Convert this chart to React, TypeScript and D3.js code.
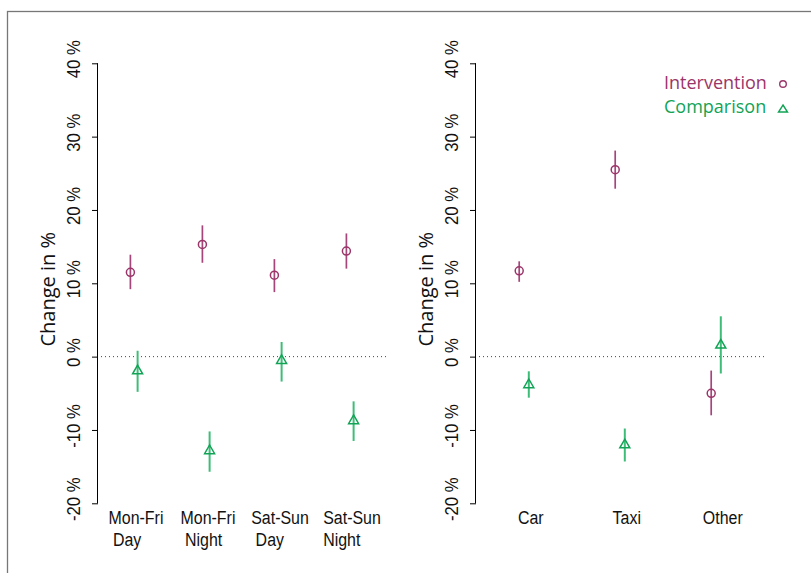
import React, { useEffect, useRef } from 'react';
import * as d3 from 'd3';

// left panel: time of week
const leftCategories = [['Mon-Fri', ' Day'], ['Mon-Fri', ' Night'], ['Sat-Sun', ' Day'], ['Sat-Sun', 'Night']];
const leftIntervention = [11.5, 15.3, 11.1, 14.4];
const leftInterventionLow = [9.2, 12.8, 8.8, 12.0];
const leftInterventionHigh = [13.9, 17.9, 13.3, 16.8];
const leftComparison = [-1.9, -12.8, -0.5, -8.7];
const leftComparisonLow = [-4.8, -15.7, -3.4, -11.5];
const leftComparisonHigh = [0.8, -10.2, 2.0, -6.1];

// right panel: vehicle type
const rightCategories = [['Car'], ['Taxi'], ['Other']];
const rightIntervention = [11.7, 25.5, -5.0];
const rightInterventionLow = [10.2, 22.9, -8.0];
const rightInterventionHigh = [13.0, 28.1, -1.9];
const rightComparison = [-3.8, -12.0, 1.6];
const rightComparisonLow = [-5.6, -14.3, -2.3];
const rightComparisonHigh = [-2.0, -9.8, 5.5];

const yTicks = [-20, -10, 0, 10, 20, 30, 40];
const legendLabels = ['Intervention', 'Comparison'];

const INT_COLOR = '#9b3569';
const INT_BAR = '#a5457a';
const COMP_COLOR = '#12a356';
const COMP_BAR = '#3dbd78';
const TRI = 'M0,-5.5L5,3.2L-5,3.2Z';
const NARROW = '"Liberation Sans", Arial, sans-serif';
const SQUEEZE = 0.84;

function App() {
  const ref = useRef<SVGSVGElement>(null);

  useEffect(() => {
    const svg = d3.select(ref.current);
    svg.selectAll('*').remove();

    const width = 811, height = 573;
    svg.attr('width', width).attr('height', height);

    svg.append('rect')
      .attr('x', 7.5).attr('y', 11.5)
      .attr('width', 900).attr('height', 700)
      .attr('fill', 'none').attr('stroke', '#777').attr('stroke-width', 1.3);

    const y = d3.scaleLinear().domain([-20, 40]).range([503.3, 63.3]);

    const panels = [
      { left: 98, cats: leftCategories, int: leftIntervention, intLo: leftInterventionLow, intHi: leftInterventionHigh,
        comp: leftComparison, compLo: leftComparisonLow, compHi: leftComparisonHigh, stagger: true },
      { left: 476, cats: rightCategories, int: rightIntervention, intLo: rightInterventionLow, intHi: rightInterventionHigh,
        comp: rightComparison, compLo: rightComparisonLow, compHi: rightComparisonHigh, stagger: false },
    ];

    panels.forEach((p) => {
      const x = d3.scaleBand<number>().domain(p.cats.map((_, i) => i)).range([p.left, p.left + 288]);
      const dodge = x.bandwidth() * 0.05;
      const cx = (i: number) => (x(i) as number) + x.bandwidth() / 2;
      const g = svg.append('g');

      // y axis, R style
      const ax = g.append('g')
        .attr('transform', `translate(${p.left},0)`)
        .call(d3.axisLeft(y).tickValues(yTicks).tickSize(6).tickFormat(() => ''));
      ax.select('.domain').attr('d', `M-0.5,${y(-20)}V${y(40)}`).attr('stroke', '#000');
      ax.selectAll('.tick line').attr('stroke', '#000');

      g.selectAll('.ylab')
        .data(yTicks)
        .enter()
        .append('text')
        .attr('transform', (d) => `translate(${p.left - 18},${y(d) - 4}) rotate(-90) scale(0.88,1)`)
        .attr('text-anchor', 'middle')
        .attr('font-family', NARROW)
        .attr('font-size', 19)
        .attr('fill', '#111')
        .text((d) => `${d} %`);

      g.append('text')
        .attr('transform', `translate(${p.left - 43},${(y(-20) + y(40)) / 2 + 6}) rotate(-90)`)
        .attr('text-anchor', 'middle')
        .attr('font-family', '"Open Sans", sans-serif')
        .attr('font-size', 20)
        .attr('fill', '#111')
        .text('Change in %');

      // zero reference
      g.append('line')
        .attr('x1', p.left + 3).attr('x2', p.left + 289)
        .attr('y1', y(0)).attr('y2', y(0))
        .attr('stroke', '#444').attr('stroke-width', 1).attr('stroke-dasharray', '1,3');

      // intervention
      p.int.forEach((v, i) => {
        const px = cx(i) - dodge;
        g.append('line').attr('x1', px).attr('x2', px)
          .attr('y1', y(p.intLo[i])).attr('y2', y(p.intHi[i]))
          .attr('stroke', INT_BAR).attr('stroke-width', 1.7);
        g.append('circle').attr('cx', px).attr('cy', y(v)).attr('r', 4)
          .attr('fill', 'none').attr('stroke', INT_COLOR).attr('stroke-width', 1.5);
      });

      // comparison
      p.comp.forEach((v, i) => {
        const px = cx(i) + dodge;
        g.append('line').attr('x1', px).attr('x2', px)
          .attr('y1', y(p.compLo[i])).attr('y2', y(p.compHi[i]))
          .attr('stroke', COMP_BAR).attr('stroke-width', 2);
        g.append('path').attr('d', TRI).attr('transform', `translate(${px},${y(v)})`)
          .attr('fill', 'none').attr('stroke', COMP_COLOR).attr('stroke-width', 1.5);
      });

      // category labels, squeezed horizontally like the condensed original face
      p.cats.forEach((lines, i) => {
        const lx = cx(i) + (p.stagger ? 2 : dodge + 2);
        const first = g.append('text')
          .attr('transform', `translate(${lx},524) scale(${SQUEEZE},1)`)
          .attr('text-anchor', 'middle')
          .attr('font-family', NARROW)
          .attr('font-size', 19)
          .attr('fill', '#111')
          .text(lines[0]);
        if (lines.length > 1) {
          const node = first.node() as SVGTextElement;
          const w = node.getComputedTextLength() * SQUEEZE;
          g.append('text')
            .attr('transform', `translate(${lx - w / 2},546) scale(${SQUEEZE},1)`)
            .attr('text-anchor', 'start')
            .style('white-space', 'pre')
            .attr('font-family', NARROW)
            .attr('font-size', 19)
            .attr('fill', '#111')
            .text(lines[1]);
        }
      });
    });

    // legend
    const lg = svg.append('g');
    lg.append('text').attr('x', 664).attr('y', 89)
      .attr('font-family', '"Open Sans", sans-serif').attr('font-size', 18)
      .attr('fill', INT_COLOR).text(legendLabels[0]);
    lg.append('circle').attr('cx', 783).attr('cy', 84).attr('r', 3.3)
      .attr('fill', 'none').attr('stroke', INT_COLOR).attr('stroke-width', 1.4);
    lg.append('text').attr('x', 664).attr('y', 113)
      .attr('font-family', '"Open Sans", sans-serif').attr('font-size', 18)
      .attr('fill', COMP_COLOR).text(legendLabels[1]);
    lg.append('path').attr('d', 'M0,-4L4.5,3L-4.5,3Z').attr('transform', 'translate(783,109)')
      .attr('fill', 'none').attr('stroke', COMP_COLOR).attr('stroke-width', 1.4);
  }, []);

  return <svg ref={ref} style={{ position: 'absolute', left: 0, top: 0, display: 'block' }}></svg>;
}

export default App;
